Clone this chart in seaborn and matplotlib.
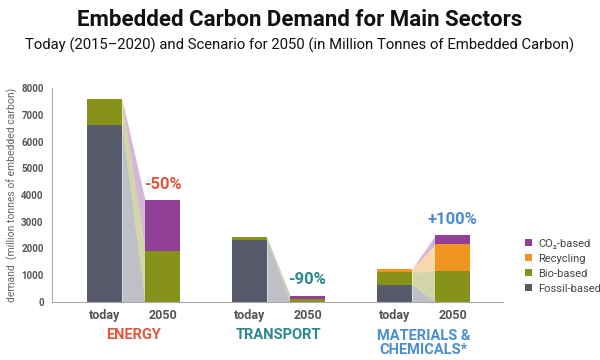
import numpy as np
import pandas as pd
import seaborn as sns
import matplotlib.pyplot as plt
from matplotlib.patches import Patch

# ---------------- DATA ------------------
sectors = ["ENERGY", "TRANSPORT", "MATERIALS &\nCHEMICALS*"]
periods = ["today", "2050"]
changes = ["-50%", "-90%", "+100%"]
sources = ["Fossil-based", "Bio-based", "Recycling", "CO₂-based"]

# one value per bar: energy today/2050, transport today/2050, materials today/2050
fossil = [6600, 0, 2330, 0, 650, 0]
bio = [1000, 1920, 100, 130, 460, 1170]
recycling = [0, 0, 0, 0, 120, 980]
co2 = [0, 1890, 0, 110, 0, 340]

# ---------------- STYLE ------------------
SRC_COLORS = ["#565a6b", "#87921a", "#ef9620", "#923f98"]
SECTOR_COLORS = ["#e0583c", "#2a8a8e", "#4a8fd0"]
GREY = "#555555"

sns.set_style("white")
plt.rcParams["font.family"] = ["Roboto", "DejaVu Sans"]

df = pd.DataFrame({
    "sector": np.repeat(sectors, len(periods)),
    "period": periods * len(sectors),
    sources[0]: fossil,
    sources[1]: bio,
    sources[2]: recycling,
    sources[3]: co2,
})
# today / 2050 bars two slots apart, sectors five slots apart
df["pos"] = [5 * i + 2 * j for i in range(len(sectors)) for j in range(len(periods))]
cum = df[sources].cumsum(axis=1)
base = cum.shift(axis=1).fillna(0)

fig = plt.figure(figsize=(6, 3.6), dpi=100)
ax = fig.add_axes([52 / 600, 1 - 302 / 360, 451 / 600, 214 / 360])

# stacked bars: draw cumulative totals from the top layer down
for k in range(len(sources) - 1, -1, -1):
    sns.barplot(x=df["pos"], y=cum[sources[k]], native_scale=True, color=SRC_COLORS[k],
                width=0.6, errorbar=None, saturation=1, linewidth=0, ax=ax)

# connector bands between today and 2050
half = 0.6
for i in range(len(sectors)):
    a, b = 2 * i, 2 * i + 1
    xs = [df["pos"][a] + half, df["pos"][b] - half]
    for k, src in enumerate(sources):
        lo = [base[src][a], base[src][b]]
        hi = [cum[src][a], cum[src][b]]
        if hi[0] - lo[0] == 0 and hi[1] - lo[1] == 0:
            continue
        ax.fill_between(xs, lo, hi, color=SRC_COLORS[k], alpha=0.38, linewidth=0)

# change labels above the 2050 bars
for i, txt in enumerate(changes):
    b = 2 * i + 1
    ax.annotate(txt, (df["pos"][b], cum[sources[-1]][b]), xytext=(0, 6), textcoords="offset points",
                ha="center", va="bottom", fontsize=12, fontweight="bold", color=SECTOR_COLORS[i])

# sector names under the ticks
for i, name in enumerate(sectors):
    ax.text(df["pos"][2 * i] + 1, -0.153 if "\n" not in name else -0.19, name,
            transform=ax.get_xaxis_transform(), ha="center", va="center",
            fontsize=10.5, fontweight="bold", color=SECTOR_COLORS[i], linespacing=1.0)

ax.set_xlim(-1.81, 13.74)
ax.set_ylim(0, 8000)
ax.set_xticks(df["pos"])
ax.set_xticklabels(df["period"], fontsize=9, fontweight="bold", color=GREY)
ax.set_yticks(range(0, 8001, 1000))
ax.set_yticklabels([str(v) for v in range(0, 8001, 1000)], fontsize=7, fontweight="bold", color=GREY)
ax.tick_params(axis="both", length=0)
ax.tick_params(axis="x", pad=5)
ax.tick_params(axis="y", pad=6)
ax.set_xlabel("")
ax.set_ylabel("")
sns.despine(ax=ax)
for s in ["left", "bottom"]:
    ax.spines[s].set_color("#aaaaaa")
    ax.spines[s].set_linewidth(0.8)

fig.text(12 / 600, 1 - 195 / 360, "demand  (million tonnes of embedded carbon)", rotation=90,
         ha="center", va="center", fontsize=7.5, color="#666666")

handles = [Patch(facecolor=SRC_COLORS[k], edgecolor="none", label=sources[k])
           for k in range(len(sources) - 1, -1, -1)]
fig.legend(handles=handles, loc="upper left", bbox_to_anchor=(519 / 600, 1 - 233 / 360),
           frameon=False, fontsize=8, handlelength=0.65, handleheight=0.65,
           handletextpad=0.6, labelspacing=0.45, borderpad=0, labelcolor="#444444")

fig.text(0.5, 1 - 20 / 360, "Embedded Carbon Demand for Main Sectors",
         ha="center", va="center", fontsize=16, fontweight="bold", color="#111111")
fig.text(0.5, 1 - 45 / 360, "Today (2015–2020) and Scenario for 2050 (in Million Tonnes of Embedded Carbon)",
         ha="center", va="center", fontsize=10.7, color="#111111")

fig.savefig("out.png", dpi=100)
